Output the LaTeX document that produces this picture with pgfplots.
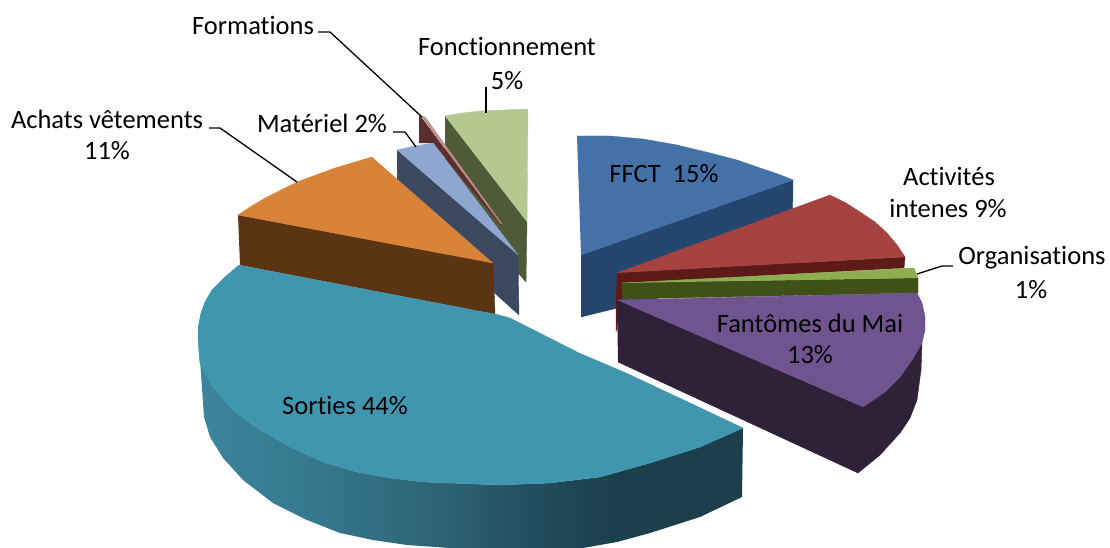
\documentclass[border=0pt]{standalone}
\usepackage{fontspec}
\setmainfont{Carlito}[Ligatures=CommonOff]
\usepackage{pgfplots}
\pgfplotsset{compat=1.18}
\definecolor{cSt}{HTML}{4096AF}
\definecolor{cSa}{HTML}{3C859B}
\definecolor{cSb}{HTML}{367A8F}
\definecolor{cSc}{HTML}{2D6475}
\definecolor{cSd}{HTML}{214A58}
\definecolor{cSe}{HTML}{1C3F4B}
\definecolor{cOt}{HTML}{D98338}
\definecolor{cOs}{HTML}{5B3413}
\definecolor{cMt}{HTML}{8EA6D0}
\definecolor{cMs}{HTML}{3B4A60}
\definecolor{cFt}{HTML}{C08C8A}
\definecolor{cFs}{HTML}{5A2E2E}
\definecolor{cGt}{HTML}{B4C98F}
\definecolor{cGs}{HTML}{4E5A38}
\definecolor{cBt}{HTML}{4472A8}
\definecolor{cBs}{HTML}{25466E}
\definecolor{cRt}{HTML}{A64341}
\definecolor{cRs}{HTML}{5E1A17}
\definecolor{cVt}{HTML}{8DAE4E}
\definecolor{cVs}{HTML}{3F5019}
\definecolor{cPt}{HTML}{70548F}
\definecolor{cPs}{HTML}{2F2238}
\pgfdeclarehorizontalshading{sortieside}{100bp}{color(0bp)=(cSa); color(25bp)=(cSa); color(34.3bp)=(cSb); color(47.1bp)=(cSc); color(57.3bp)=(cSd); color(63.7bp)=(cSe); color(100bp)=(cSe)}
\pgfplotsset{
  sl/.style={no marks,draw=#1,fill=#1,line width=0.4pt,forget plot},
  ld/.style={no marks,draw=black,line width=1.3pt,forget plot}
}
\newcommand{\lab}[3]{\node[anchor=center,inner sep=0pt,font=\fontsize{26.5}{32}\selectfont] at (axis cs:#1,#2) {#3};}
\begin{document}
\begin{tikzpicture}
\useasboundingbox (0,0) rectangle (1110pt,548pt);
\begin{axis}[
  scale only axis,width=1110pt,height=548pt,
  xmin=0,xmax=1110,ymin=0,ymax=548,y dir=reverse,
  hide axis,clip=true]
% Fonctionnement
\addplot[sl=cGs] coordinates {(445,116)(527,222)(526,282)(445,190)};
\addplot[sl=cGt] coordinates {(445,116)(462,113)(480,111)(504,110)(528,109)(527,222)};
% Formations
\addplot[sl=cFs] coordinates {(419,116)(421,117)(501,225)(433,143)(419,143)};
\addplot[sl=cFt] coordinates {(421,116)(425,117)(502,224)(500,223)};
% Materiel
\addplot[sl=cMs] coordinates {(397,150)(518,255)(519,315)(397,205)};
\addplot[sl=cMt] coordinates {(397,150)(415,146)(433,143)(518,255)};
% Achats
\addplot[sl=cOs] coordinates {(238,215)(493,263)(495,314)(240,265)};
\addplot[sl=cOt] coordinates {(372,157)(335,168)(297,182)(267,197)(250,207)(238,215)(493,263)};
% Sorties side
\addplot[no marks,draw=none,forget plot,shading=sortieside,shading angle=0] coordinates {
 (199,345)(200,363)(213,387)(233,410)(257,428)(290,447)(323,462)(357,472)(390,478)(423,482)(450,483)(500,485)(550,483)(600,477)(650,463)(700,447)(743,428)
 (742,497)(700,517)(650,533)(617,542)(583,548)(540,553)(500,553)(450,548)(407,545)(373,540)(340,533)(307,520)(273,503)(243,480)(223,458)(210,437)(204,417)};
\addplot[sl=cSt] coordinates {(239,265)(225,277)(212,290)(205,302)(201,313)(198,328)(198,340)(199,352)(200,363)(213,387)(233,410)(257,428)(290,447)(323,462)(357,472)(390,478)(423,482)(450,483)(500,485)(550,483)(600,477)(650,463)(700,447)(743,428)(690,403)(626,373)(579,353)(510,318)(495,314)};
% FFCT
\addplot[sl=cBs] coordinates {(581,255)(793,180)(792,265)(581,317)};
\addplot[sl=cBt] coordinates {(577,136)(610,136)(643,139)(677,145)(710,153)(737,160)(760,168)(778,174)(793,180)(581,255)};
% Activites
\addplot[sl=cRs] coordinates {(617,273)(905,257)(904,268)(622,283)(622,299)(616,332)(616,299)};
\addplot[sl=cRt] coordinates {(617,273)(830,195)(846,203)(860,212)(875,222)(887,233)(897,245)(905,257)};
% Organisations
\addplot[sl=cVs] coordinates {(622,283)(918,278)(918,293)(622,299)};
\addplot[sl=cVt] coordinates {(622,283)(914,268)(918,278)};
% Fantomes
\addplot[sl=cPs] coordinates {(617,300)(863,407)(885,392)(900,377)(912,360)(922,343)(921,370)(917,400)(910,418)(900,433)(880,455)(858,473)(618,362)};
\addplot[sl=cPt] coordinates {(617,300)(917,293)(922,303)(925,317)(925,330)(922,343)(912,360)(900,377)(885,392)(863,407)};
% leaders
\addplot[ld] coordinates {(318,32)(330,32)(422,117)};
\addplot[ld] coordinates {(486,87)(486,113)};
\addplot[ld] coordinates {(393,132)(405,132)(416,147)};
\addplot[ld] coordinates {(209,128)(220,128)(297,182)};
\addplot[ld] coordinates {(917,274)(942,266)(953,266)};
% labels
\lab{253}{25}{Formations}
\lab{507}{46}{Fonctionnement}
\lab{507}{81}{5\%}
\lab{107}{119}{Achats vêtements}
\lab{107}{151}{11\%}
\lab{322}{123}{Matériel 2\%}
\lab{664}{174}{FFCT\ \ 15\%}
\lab{949}{176}{Activités}
\lab{948}{208}{intenes 9\%}
\lab{1032}{258}{Organisations}
\lab{1031}{290}{1\%}
\lab{810}{323}{Fantômes du Mai}
\lab{810}{355}{13\%}
\lab{345}{405}{Sorties 44\%}
\end{axis}
\end{tikzpicture}
\end{document}
